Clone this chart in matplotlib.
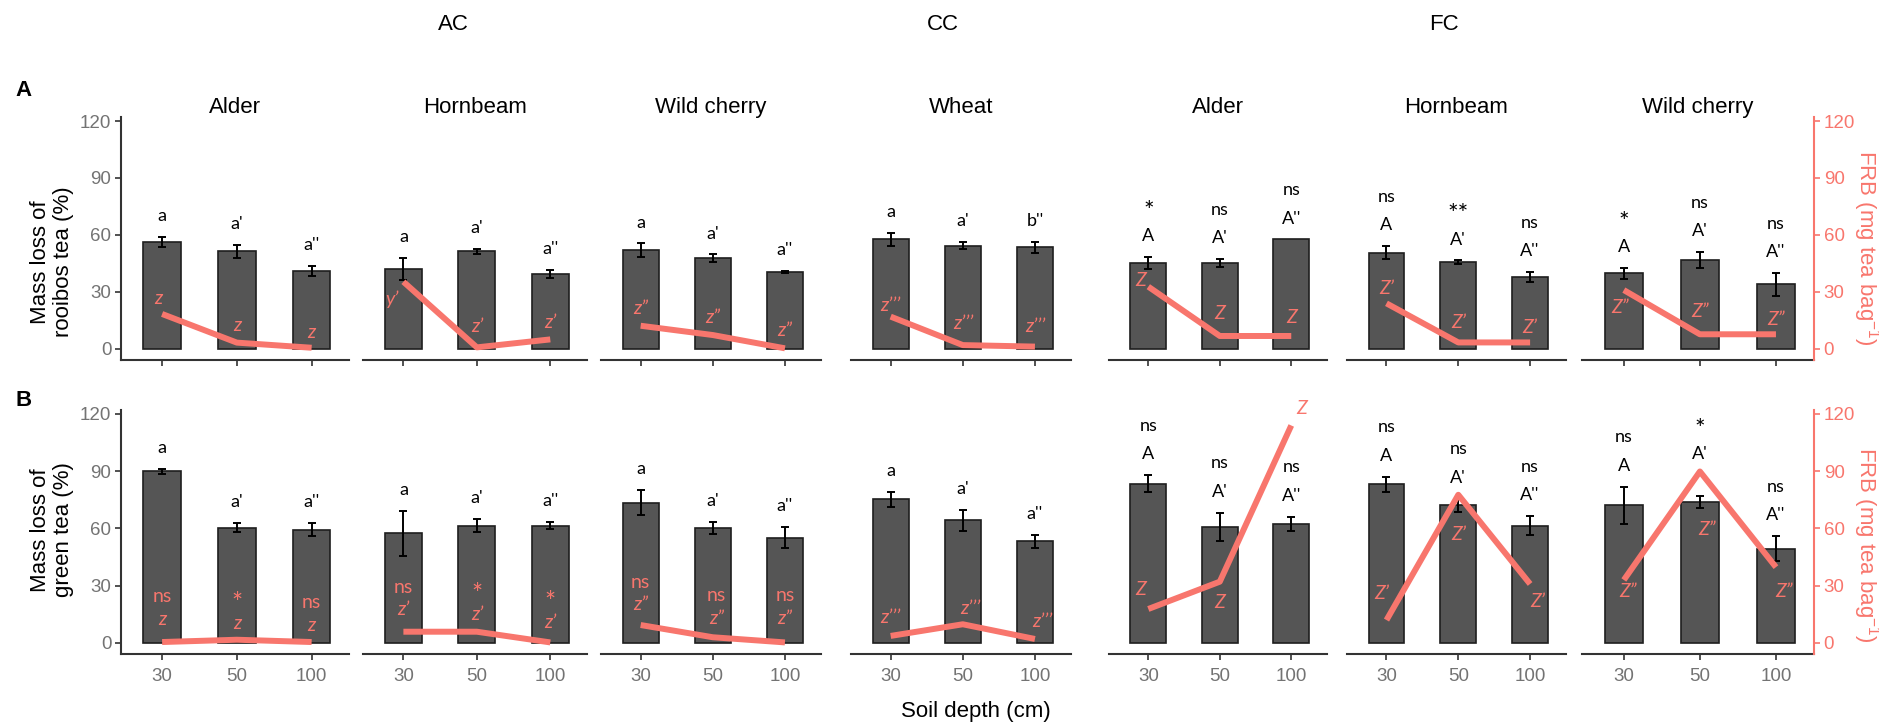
import numpy as np
import matplotlib
matplotlib.use("Agg")
from matplotlib import pyplot as plt

plt.rcParams['mathtext.default'] = 'regular'

# panels, left to right
groups = ["AC", "CC", "FC"]
panel_group = [0, 0, 0, 1, 2, 2, 2]
panel_names = ["Alder", "Hornbeam", "Wild cherry", "Wheat", "Alder", "Hornbeam", "Wild cherry"]
depths = ["30", "50", "100"]

# A - rooibos tea, mass loss (%) and FRB (mg tea bag-1)
rooibos_loss = [[56.4, 51.3, 41.1], [42.0, 51.3, 39.5], [52.0, 47.8, 40.4], [57.6, 54.3, 53.4],
                [45.2, 45.2, 57.6], [50.6, 45.5, 37.8], [39.7, 46.6, 33.9]]
rooibos_err = [[2.6, 3.5, 2.6], [6.0, 1.3, 2.2], [3.5, 1.9, 0.6], [3.5, 1.8, 2.7],
               [3.0, 2.1, 0.0], [3.5, 1.0, 2.5], [2.8, 4.2, 6.0]]
rooibos_frb = [[18.3, 3.2, 0.5], [35.3, 0.7, 4.9], [12.1, 7.2, 0.2], [16.9, 1.9, 1.1],
               [32.7, 6.7, 6.7], [23.9, 3.3, 3.3], [30.9, 7.6, 7.6]]
rooibos_letters = [["a", "a'", "a''"], ["a", "a'", "a''"], ["a", "a'", "a''"], ["a", "a'", "b''"],
                   ["A", "A'", "A''"], ["A", "A'", "A''"], ["A", "A'", "A''"]]
rooibos_sig = [["", "", ""], ["", "", ""], ["", "", ""], ["", "", ""],
               ["*", "ns", "ns"], ["ns", "**", "ns"], ["*", "ns", "ns"]]
rooibos_frb_letters = [["z", "z", "z"], ["y\u2019", "z\u2019", "z\u2019"],
                       ["z\u201d", "z\u201d", "z\u201d"], ["z\u2019\u2019\u2019"] * 3,
                       ["Z", "Z", "Z"], ["Z\u2019"] * 3, ["Z\u201d"] * 3]
rooibos_frb_sig = [["", "", ""]] * 7

# B - green tea
green_loss = [[89.8, 60.4, 59.4], [57.5, 61.5, 61.5], [73.5, 60.3, 55.2], [75.3, 64.3, 53.3],
              [83.3, 60.8, 62.4], [83.1, 72.1, 61.5], [72.1, 73.7, 49.4]]
green_err = [[1.3, 2.4, 3.6], [11.7, 3.5, 2.0], [6.5, 3.0, 5.7], [3.9, 5.5, 3.5],
             [4.5, 7.2, 3.6], [3.9, 3.3, 4.8], [9.8, 3.2, 6.5]]
green_frb = [[0.5, 1.7, 0.5], [5.9, 5.9, 0.3], [9.4, 3.0, 0.3], [3.7, 9.8, 2.1],
             [17.8, 32.1, 113.9], [12.0, 77.6, 30.9], [33.0, 89.8, 39.7]]
green_letters = [["a", "a'", "a''"]] * 4 + [["A", "A'", "A''"]] * 3
green_sig = [["", "", ""]] * 4 + [["ns", "ns", "ns"], ["ns", "ns", "ns"], ["ns", "*", "ns"]]
green_frb_letters = [["z", "z", "z"], ["z\u2019"] * 3, ["z\u201d"] * 3, ["z\u2019\u2019\u2019"] * 3,
                     ["Z", "Z", "Z"], ["Z\u2019"] * 3, ["Z\u201d"] * 3]
green_frb_sig = [["ns", "*", "ns"], ["ns", "*", "*"], ["ns", "ns", "ns"], ["", "", ""],
                 ["", "", ""], ["", "", ""], ["", "", ""]]

# label nudges for the red letters (data units from the FRB point)
rooibos_dy = [[8, 9, 8], [-9, 11, 9], [9, 9, 9.6], [6, 11.5, 10.5], [3.5, 12, 10], [8, 10.6, 7.8], [-9, 12, 8]]
rooibos_dx = [[-0.05, 0, 0], [-0.15, 0, 0], [0, 0, 0], [0, 0, 0], [-0.1, 0, 0], [0, 0, 0], [-0.05, 0, 0]]
green_dy = [[12, 8.6, 8.6], [11.4, 8.8, 10.4], [10.5, 10, 12.6], [9.6, 8.4, 9], [10, -11, 9], [14, -21, -9], [-6, -30.6, -12.8]]
green_dx = [[0, 0, 0], [0, 0, 0], [0, 0.05, 0], [0, 0.1, 0.1], [-0.1, 0, 0.15], [-0.07, 0, 0.1], [0.05, 0.1, 0.1]]
# black letters sit 11 units above the error bar, except where the line is in the way
green_letter_gap = {(6, 1): 22}

W, H = 1879, 724
panel_l = [121, 363, 601, 851, 1109, 1347, 1582]
panel_r = [349, 587, 821, 1071, 1327, 1566, 1814]

BAR = '#555555'
EDGE = '#1e1e1e'
SALMON = '#F8766D'
AXC = '#333333'
TICKC = '#737373'
SANS = ['Liberation Sans', 'DejaVu Sans']
LBL = ['Lato', 'DejaVu Sans']

fig = plt.figure(figsize=(W / 100, H / 100), dpi=100)


def star_size(s):
    return 18 if s.startswith('*') else 13


def draw_row(top, bot, ylo, loss, err, frb, letters, sig, frb_letters, frb_sig, dy, dx, first_row, gaps):
    x = np.arange(3)
    for i in range(7):
        l, r = panel_l[i], panel_r[i]
        ax = fig.add_axes([l / W, 1 - bot / H, (r - l) / W, (bot - top) / H])
        vals = np.array(loss[i])
        e = np.array(err[i])
        ax.bar(x, vals, width=0.5, color=BAR, edgecolor=EDGE, linewidth=1.2, zorder=2)
        m = e > 0
        ax.errorbar(x[m], vals[m], yerr=e[m], fmt='none', ecolor='black',
                    elinewidth=1.4, capsize=3, capthick=1.4, zorder=3)
        ax.set_xlim(-0.55, 2.5)
        ax.set_ylim(ylo, 122)
        for s in ['top', 'right']:
            ax.spines[s].set_visible(False)
        ax.spines['bottom'].set_color(AXC)
        ax.spines['bottom'].set_linewidth(1.5)
        ax.set_xticks(x)
        if first_row:
            ax.set_xticklabels([])
        else:
            ax.set_xticklabels(depths, fontsize=13.5, family=SANS)
        ax.tick_params(axis='x', length=4, width=1.2, color=AXC, labelcolor=TICKC, pad=6)
        if i == 0:
            ax.spines['left'].set_color(AXC)
            ax.spines['left'].set_linewidth(1.5)
            ax.set_yticks([0, 30, 60, 90, 120])
            ax.set_yticklabels(['0', '30', '60', '90', '120'], fontsize=13.5, family=SANS)
            ax.tick_params(axis='y', length=4, width=1.2, color=AXC, labelcolor=TICKC, pad=3)
        else:
            ax.spines['left'].set_visible(False)
            ax.set_yticks([])
        if first_row:
            ax.text(0.5, 1.04, panel_names[i], transform=ax.transAxes, ha='center', va='center',
                    fontsize=16, family=SANS)

        # black letters and significance above the bars
        for j in range(3):
            ytop = vals[j] + e[j]
            yl = ytop + gaps.get((i, j), 11)
            ax.text(j, yl, letters[i][j], ha='center', va='center', fontsize=13,
                    family=LBL, zorder=5)
            s = sig[i][j]
            if s:
                yy = yl + 15 - (2 if s.startswith('*') else 0)
                ax.text(j, yy, s, ha='center', va='center', fontsize=star_size(s),
                        family=LBL, zorder=5)

        tw = ax.twinx()
        tw.set_ylim(ylo, 122)
        tw.plot(x, frb[i], color=SALMON, lw=4.3, solid_capstyle='butt', zorder=4)
        for sp in tw.spines.values():
            sp.set_visible(False)
        if i == 6:
            tw.spines['right'].set_visible(True)
            tw.spines['right'].set_color(SALMON)
            tw.spines['right'].set_linewidth(1.5)
            tw.set_yticks([0, 30, 60, 90, 120])
            tw.set_yticklabels(['0', '30', '60', '90', '120'], fontsize=13.5, family=SANS)
            tw.tick_params(axis='y', length=4, width=1.2, color=SALMON, labelcolor=SALMON, pad=3)
        else:
            tw.set_yticks([])
        for j in range(3):
            yl = frb[i][j] + dy[i][j]
            tw.text(j + dx[i][j], yl, frb_letters[i][j], ha='center', va='center', fontsize=14,
                    family=LBL, style='italic', color=SALMON, zorder=6, clip_on=False)
            s = frb_sig[i][j]
            if s:
                yy = yl + 12 - (2 if s == '*' else 0)
                tw.text(j + dx[i][j], yy, s, ha='center', va='center',
                        fontsize=19 if s == '*' else 14, family=LBL, color=SALMON, zorder=6)


draw_row(117.3, 360, -5.96, rooibos_loss, rooibos_err, rooibos_frb, rooibos_letters, rooibos_sig,
         rooibos_frb_letters, rooibos_frb_sig, rooibos_dy, rooibos_dx, True, {})
draw_row(410, 654, -5.77, green_loss, green_err, green_frb, green_letters, green_sig,
         green_frb_letters, green_frb_sig, green_dy, green_dx, False, green_letter_gap)

# group headers
for g, name in enumerate(groups):
    idx = [k for k in range(7) if panel_group[k] == g]
    cx = (panel_l[idx[0]] + panel_r[idx[-1]]) / 2 - 18
    fig.text(cx / W, 1 - 25 / H, name, ha='center', va='center', fontsize=16, family=SANS)

fig.text(24 / W, 1 - 90 / H, "A", ha='center', va='center', fontsize=16, fontweight='bold', family=SANS)
fig.text(24 / W, 1 - 400 / H, "B", ha='center', va='center', fontsize=16, fontweight='bold', family=SANS)

fig.text(52 / W, 1 - 262 / H, "Mass loss of\nrooibos tea (%)", rotation=90, ha='center', va='center',
         multialignment='center', fontsize=16, family=SANS, linespacing=1.15)
fig.text(52 / W, 1 - 530 / H, "Mass loss of\ngreen tea (%)", rotation=90, ha='center', va='center',
         multialignment='center', fontsize=16, family=SANS, linespacing=1.15)

fig.text(1866 / W, 1 - 248 / H, "FRB (mg tea bag$^{-1}$)", rotation=270, ha='center', va='center',
         fontsize=16, family=SANS, color=SALMON)
fig.text(1866 / W, 1 - 545 / H, "FRB (mg tea bag$^{-1}$)", rotation=270, ha='center', va='center',
         fontsize=16, family=SANS, color=SALMON)

fig.text(976 / W, 1 - 712 / H, "Soil depth (cm)", ha='center', va='center', fontsize=16, family=SANS)

fig.savefig("out.png", dpi=100)
